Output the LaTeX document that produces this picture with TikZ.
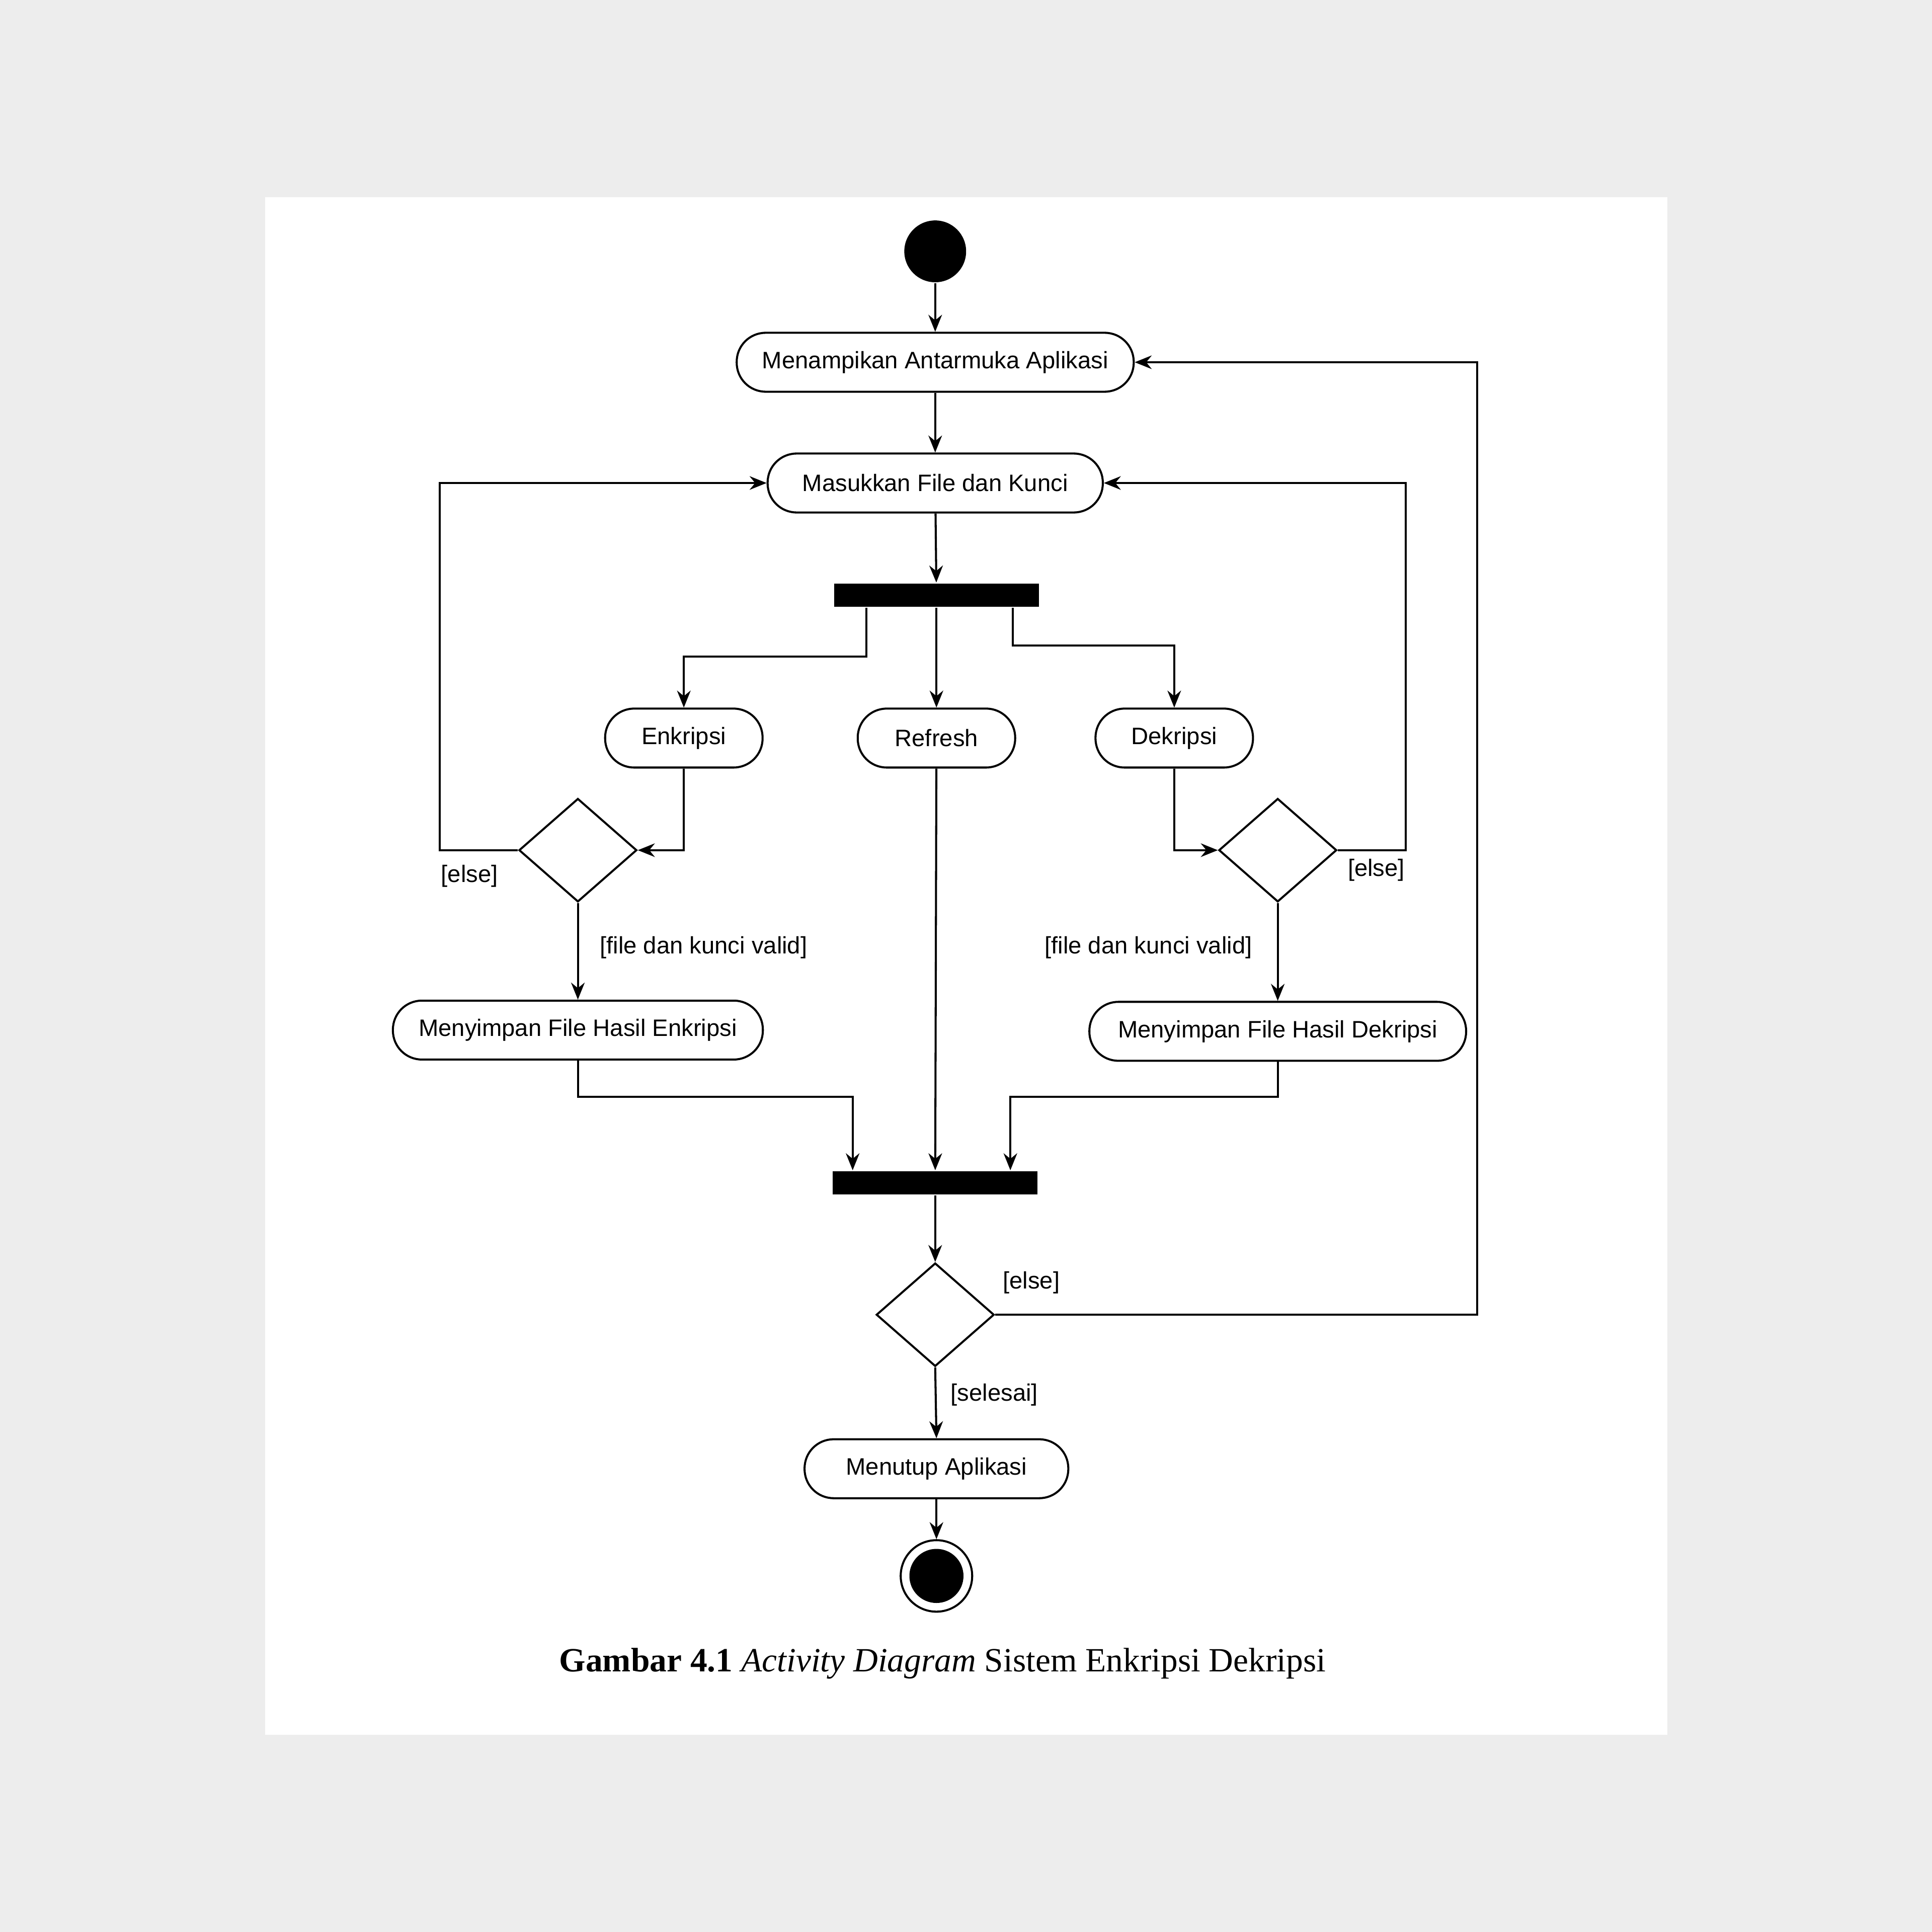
\documentclass[tikz,border=0pt]{standalone}
\usepackage{fontspec}
\setmainfont{Liberation Serif}
\newfontfamily\diagfont{Liberation Sans}
\usetikzlibrary{shapes.geometric,arrows.meta,backgrounds}

\begin{document}
\begin{tikzpicture}[x=0.012755cm,y=-0.012755cm,line width=0.6pt,>={Stealth[length=5pt,width=4pt]}]
        %
        % `activity' is used for the rounded action boxes.
        % `decision' is used for the diamonds, `bar' for fork and join.
        \tikzstyle{activity} = [draw,rounded corners=0.3cm,minimum height=0.61cm,font=\diagfont\fontsize{7}{8}\selectfont]
        \tikzstyle{decision} = [draw,shape=diamond,minimum width=1.22cm,minimum height=1.07cm,inner sep=0pt]
        \tikzstyle{bar} = [fill=black,minimum width=2.12cm,minimum height=0.24cm,inner sep=0pt]
        \tikzstyle{guard} = [font=\diagfont\fontsize{7}{8}\selectfont]
        %
        % Page and sheet
        \useasboundingbox (0,0) rectangle (1568,1568);
        \fill[black!7] (0,0) rectangle (1568,1568);
        \fill[white] (215,160) rectangle (1353,1408);
        %
        % Start
        \node[fill,circle,minimum size=0.64cm,inner sep=0pt] (start) at (759,204) {};
        \node[activity,minimum width=4.11cm] (show) at (759,294) {Menampikan Antarmuka Aplikasi};
        \node[activity,minimum width=3.47cm] (input) at (759,392) {Masukkan File dan Kunci};
        \node[bar] (fork) at (760,483) {};
        %
        % Row of choices
        \node[activity,minimum width=1.63cm] (enc) at (555,599) {Enkripsi};
        \node[activity,minimum width=1.63cm] (refresh) at (760,599) {Refresh};
        \node[activity,minimum width=1.63cm] (dec) at (953,599) {Dekripsi};
        %
        % Checks
        \node[decision] (checkenc) at (469,690) {};
        \node[decision] (checkdec) at (1037,690) {};
        \node[activity,minimum width=3.83cm] (saveenc) at (469,836) {Menyimpan File Hasil Enkripsi};
        \node[activity,minimum width=3.90cm] (savedec) at (1037,837) {Menyimpan File Hasil Dekripsi};
        %
        % Join and end
        \node[bar] (join) at (759,960) {};
        \node[decision] (checkend) at (759,1067) {};
        \node[activity,minimum width=2.73cm] (close) at (760,1192) {Menutup Aplikasi};
        \node[draw,circle,minimum size=0.74cm,inner sep=0pt] (stop) at (760,1279) {};
        \node[fill,circle,minimum size=0.56cm,inner sep=0pt] at (stop) {};
        %
        % Bend points
        \coordinate (fl) at (703,533);
        \coordinate (fr) at (822,524);
        \coordinate (jl) at (692,890);
        \coordinate (jr) at (820,890);
        \coordinate (loopl) at (357,690);
        \coordinate (loopr) at (1141,690);
        \coordinate (loopend) at (1199,1067);
        %
        % Connectors
        \draw[->] (start) -- (show);
        \draw[->] (show) -- (input);
        \draw[->] (input) -- (fork);
        \draw[->] (fl |- fork.south) -- (fl) -| (enc.north);
        \draw[->] (fork) -- (refresh);
        \draw[->] (fr |- fork.south) -- (fr) -| (dec.north);
        \draw[->] (enc.south) |- (checkenc.east);
        \draw[->] (dec.south) |- (checkdec.west);
        \draw[->] (checkenc.west) -- (loopl) |- (input.west);
        \draw[->] (checkdec.east) -- (loopr) |- (input.east);
        \draw[->] (checkenc.south) -- (saveenc.north);
        \draw[->] (checkdec.south) -- (savedec.north);
        \draw[->] (saveenc.south) |- (jl) -- (jl |- join.north);
        \draw[->] (savedec.south) |- (jr) -- (jr |- join.north);
        \draw[->] (refresh) -- (join);
        \draw[->] (join) -- (checkend);
        \draw[->] (checkend.east) -- (loopend) |- (show.east);
        \draw[->] (checkend.south) -- (close.north);
        \draw[->] (close) -- (stop);
        %
        % Guards
        \node[guard] (g1) at (381,711) {[else]};
        \node[guard] (g2) at (571,769) {[file dan kunci valid]};
        \node[guard] (g3) at (1117,706) {[else]};
        \node[guard] (g4) at (932,769) {[file dan kunci valid]};
        \node[guard] (g5) at (837,1041) {[else]};
        \node[guard] (g6) at (807,1132) {[selesai]};
        %
        % Caption
        \node[font=\fontsize{10}{12}\selectfont] (caption) at (765,1350) {\textbf{Gambar 4.1} \textit{Activity Diagram} Sistem Enkripsi Dekripsi};
        %
        \end{tikzpicture}
\end{document}
